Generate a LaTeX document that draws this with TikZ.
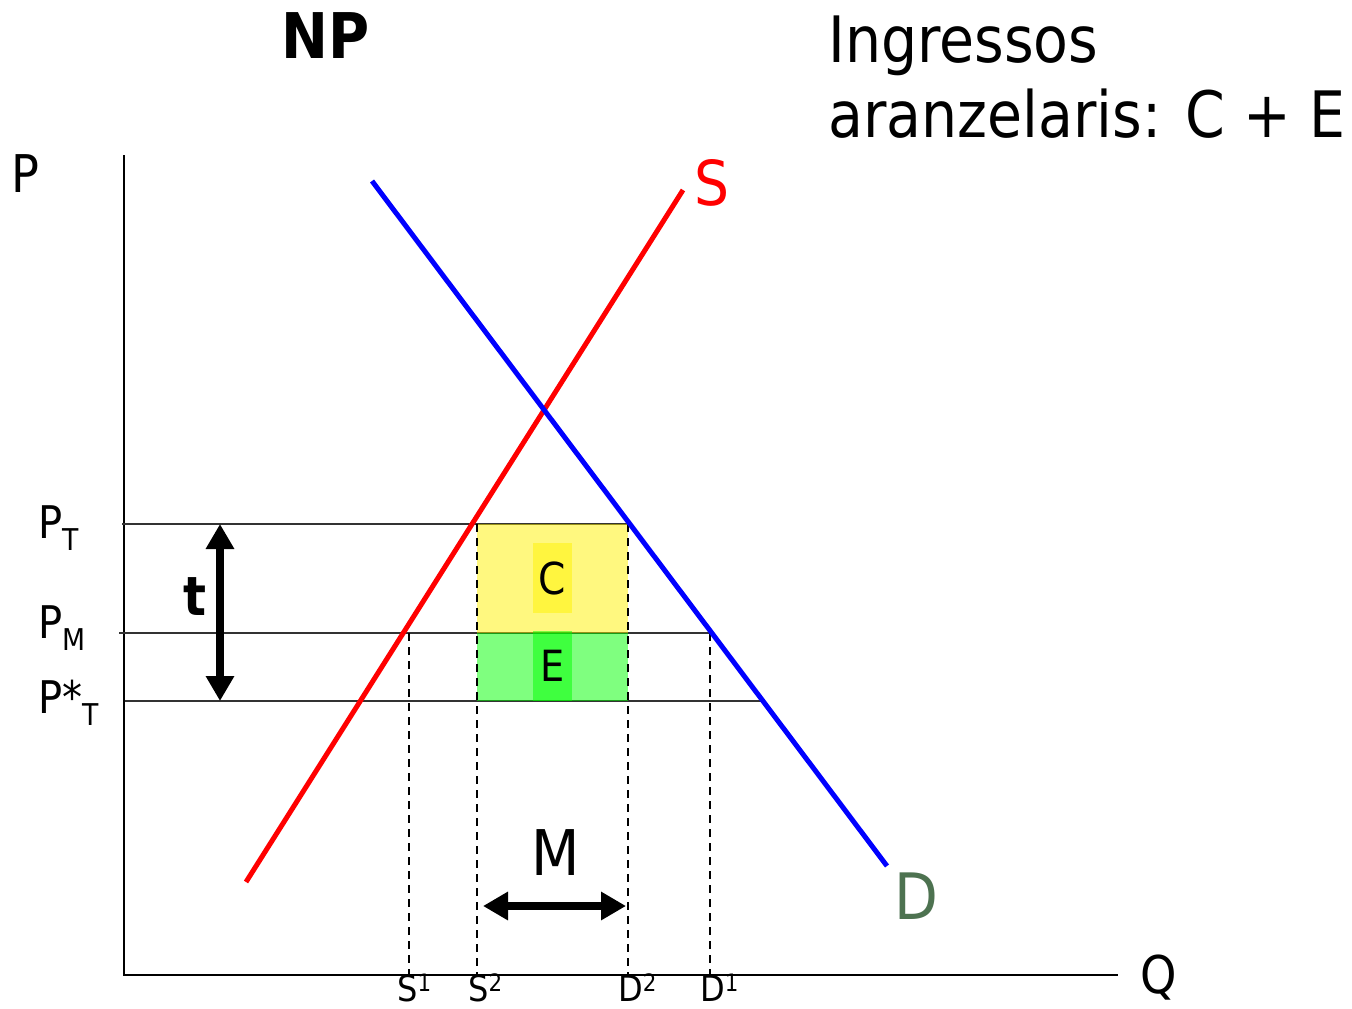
\documentclass[tikz,border=0pt]{standalone}
\usepackage{fontspec}
\setmainfont{DejaVu Sans}[FakeStretch=0.89]
\usepackage{xcolor}
\usetikzlibrary{positioning,arrows.meta}
\definecolor{dgreen}{RGB}{77,114,80}
\newcommand{\setfs}[1]{\fontsize{#1pt}{#1pt}\selectfont}
\newcommand{\lowsub}[1]{\raisebox{-12pt}{\setfs{30}#1}}
\newcommand{\upsup}[1]{\raisebox{10pt}{\setfs{24}#1}}

\begin{document}
\begin{tikzpicture}[x=1pt,y=-1pt,
  every node/.style={inner sep=0pt},
  title/.style={font=\setfs{64},anchor=base west},
  axlbl/.style={font=\setfs{52},anchor=base west},
  plbl/.style={font=\setfs{45},anchor=base west},
  qlbl/.style={font=\setfs{36},anchor=base west},
  area/.style={font=\setfs{44},minimum width=39pt,minimum height=70pt,fill opacity=0.5,text opacity=1},
  axis/.style={line width=2pt},
  level/.style={line width=2pt,black!80},
  guide/.style={line width=2pt,dash pattern=on 8pt off 6pt},
  curve/.style={line width=5pt},
  arrow/.style={{Triangle[width=27pt,length=25pt]}-{Triangle[width=27pt,length=25pt]},line width=8pt}]
\useasboundingbox (0,0) rectangle (1352,1009);
% titles
\node[title,font=\setfs{63}\bfseries] (np) at (281,58) {NP};
\node[title] (ingr1) at (828,62) {Ingressos};
\node[title] (ingr2) at (828,137) {aranzelaris: C + E};
% axes
\coordinate (o) at (124,975);
\coordinate (ytop) at (124,155);
\coordinate (xend) at (1118,975);
\draw[axis] (ytop) -- (o) -- (xend);
\node[axlbl] (plab) at (11,192) {P};
\node[axlbl] (qlab) at (1140,993) {Q};
% price levels
\coordinate (pt0) at (122,524);  \coordinate (pt1) at (628,524);
\coordinate (pm0) at (119,633);  \coordinate (pm1) at (710,633);
\coordinate (ps0) at (125,701);  \coordinate (ps1) at (762,701);
\draw[level] (pt0) -- (pt1);
\draw[level] (pm0) -- (pm1);
\draw[level] (ps0) -- (ps1);
\node[plbl] (ptlab) at (38,538) {P\lowsub{T}};
\node[plbl] (pmlab) at (38,638) {P\lowsub{M}};
\node[plbl] (pslab) at (38,713) {P*\lowsub{T}};
% tariff revenue
\fill[yellow,opacity=0.5] (477,524) rectangle (628,633);
\fill[green,opacity=0.5] (477,633) rectangle (628,701);
\node[area,fill=yellow] (c) at (552,578) {C};
\node[area,fill=green,font=\setfs{43}] (e) at (552.5,665.5) {E};
% quantities
\coordinate (s1t) at (409,633);  \coordinate (s1b) at (409,975);
\coordinate (s2t) at (477,524);  \coordinate (s2b) at (477,975);
\coordinate (d2t) at (628,524);  \coordinate (d2b) at (628,975);
\coordinate (d1t) at (710,633);  \coordinate (d1b) at (710,975);
\foreach \a/\b in {s1t/s1b,s2t/s2b,d2t/d2b,d1t/d1b}
  \draw[guide] (\a) -- (\b);
\node[qlbl] (s1lab) at (397,1001) {S\upsup{1}};
\node[qlbl] (s2lab) at (468,1001) {S\upsup{2}};
\node[qlbl] (d2lab) at (618,1001) {D\upsup{2}};
\node[qlbl] (d1lab) at (700,1001) {D\upsup{1}};
% supply and demand
\coordinate (sup0) at (246,882);  \coordinate (sup1) at (683,190);
\coordinate (dem0) at (372,181);  \coordinate (dem1) at (887,866);
\draw[curve,red] (sup0) -- (sup1);
\draw[curve,blue] (dem0) -- (dem1);
\node[title,font=\setfs{62},red] (slab) at (694,205) {S};
\node[title,dgreen] (dlab) at (894,919) {D};
% tariff and imports
\coordinate (t0) at (220,524);  \coordinate (t1) at (220,701);
\draw[arrow] (t0) -- (t1);
\node[font=\setfs{54}\bfseries,anchor=base east] (tlab) at (207,615) {t};
\coordinate (m0) at (483,906);  \coordinate (m1) at (626,906);
\draw[arrow] (m0) -- (m1);
\node[font=\setfs{63},anchor=base] (mlab) at (556,875) {M};
\end{tikzpicture}
\end{document}
